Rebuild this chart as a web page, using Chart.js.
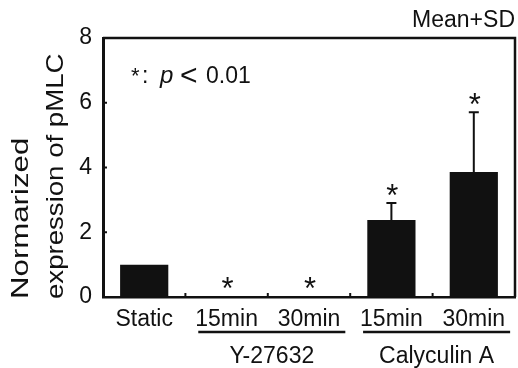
<!DOCTYPE html>
<html><head><meta charset="utf-8">
<script src="https://cdn.jsdelivr.net/npm/chart.js@4"></script>
<style>html,body{margin:0;padding:0;background:#fff}</style>
</head><body>
<canvas id="c" width="518" height="368"></canvas>
<script>
// ---- data ----
const categories = ['Static', '15min', '30min', '15min', '30min'];
const groups = ['', 'Y-27632', 'Y-27632', 'Calyculin A', 'Calyculin A'];
const means = [1.0, 0.02, 0.02, 2.38, 3.86];
const sds = [0, 0, 0, 0.52, 1.85];
const significant = [false, true, true, true, true];
const yTicks = [0, 2, 4, 6, 8];
const yTitle = ['Normarized', 'expression of pMLC'];
const cornerText = 'Mean+SD';
const noteParts = ['*', ':', 'p', '<', '0.01'];

const FONT = '"Liberation Sans", Arial, sans-serif';
const INK = '#111';

const extras = {
  id: 'extras',
  afterDatasetsDraw(chart) {
    const {ctx, chartArea: a, scales: {x, y}} = chart;
    ctx.save();
    ctx.strokeStyle = INK; ctx.fillStyle = INK;
    // frame top & right
    ctx.lineWidth = 2.5;
    ctx.beginPath();
    ctx.moveTo(a.left, a.top); ctx.lineTo(a.right, a.top); ctx.lineTo(a.right, a.bottom);
    ctx.stroke();
    // inward y ticks
    ctx.lineWidth = 2;
    yTicks.forEach(v => {
      const py = y.getPixelForValue(v);
      ctx.beginPath(); ctx.moveTo(a.left, py); ctx.lineTo(a.left + 4, py); ctx.stroke();
    });
    // inward x ticks at category boundaries
    for (let i = 0; i < categories.length - 1; i++) {
      const px = (x.getPixelForValue(i) + x.getPixelForValue(i + 1)) / 2;
      ctx.beginPath(); ctx.moveTo(px, a.bottom); ctx.lineTo(px, a.bottom - 4); ctx.stroke();
    }
    // error bars
    ctx.lineWidth = 2;
    means.forEach((m, i) => {
      if (!sds[i]) return;
      const px = x.getPixelForValue(i);
      const y0 = y.getPixelForValue(m), y1 = y.getPixelForValue(m + sds[i]);
      ctx.beginPath(); ctx.moveTo(px, y0); ctx.lineTo(px, y1);
      ctx.moveTo(px - 5, y1); ctx.lineTo(px + 5, y1); ctx.stroke();
    });
    // asterisks
    ctx.font = '31px ' + FONT; ctx.textAlign = 'center'; ctx.textBaseline = 'alphabetic';
    means.forEach((m, i) => {
      if (!significant[i]) return;
      const px = x.getPixelForValue(i);
      const top = y.getPixelForValue(m + sds[i]);
      ctx.fillText('*', px + 1, top - 15 + 18);
    });
    ctx.restore();
  },
  afterDraw(chart) {
    const {ctx, chartArea: a, scales: {x}} = chart;
    ctx.save();
    ctx.fillStyle = INK; ctx.strokeStyle = INK;
    // group underlines + labels
    ctx.font = '23px ' + FONT;
    const seen = {};
    groups.forEach((g, i) => { if (g) { (seen[g] = seen[g] || []).push(i); } });
    Object.keys(seen).forEach(g => {
      const idx = seen[g];
      const i0 = idx[0], i1 = idx[idx.length - 1];
      const l = x.getPixelForValue(i0) + 3 - ctx.measureText(categories[i0]).width / 2;
      const r = x.getPixelForValue(i1) + 3 + ctx.measureText(categories[i1]).width / 2 + 2;
      ctx.lineWidth = 2.5;
      ctx.beginPath(); ctx.moveTo(l, 332); ctx.lineTo(r, 332); ctx.stroke();
      ctx.textAlign = 'center'; ctx.textBaseline = 'alphabetic';
      ctx.fillText(g, (l + r) / 2, 363);
    });
    // corner text
    ctx.textAlign = 'right';
    ctx.fillText(cornerText, 515, 27);
    // note
    ctx.textAlign = 'left';
    ctx.font = '22px ' + FONT; ctx.fillText(noteParts[0], 131, 83);
    ctx.font = '23px ' + FONT; ctx.fillText(noteParts[1], 142, 83);
    ctx.font = 'italic 24px ' + FONT; ctx.fillText(noteParts[2], 160, 83);
    ctx.font = '30px ' + FONT; ctx.fillText(noteParts[3], 180, 85);
    ctx.font = '23px ' + FONT; ctx.fillText(noteParts[4], 206, 83);
    // y title (rotated, stretched)
    ctx.font = '24px ' + FONT;
    [[yTitle[0], 28, 1.3], [yTitle[1], 63, 1.15]].forEach(([t, bx, s]) => {
      ctx.save();
      ctx.translate(bx, 299); ctx.rotate(-Math.PI / 2); ctx.scale(s, 1);
      ctx.textAlign = 'left'; ctx.textBaseline = 'alphabetic';
      ctx.fillText(t, 0, 0);
      ctx.restore();
    });
    ctx.restore();
  }
};

new Chart(document.getElementById('c'), {
  type: 'bar',
  data: {
    labels: categories,
    datasets: [{ data: means, backgroundColor: INK, borderWidth: 0,
      barPercentage: 0.585, categoryPercentage: 1.0 }]
  },
  options: {
    responsive: false, animation: false, devicePixelRatio: 1,
    layout: { padding: { left: 0, right: 3, top: 38, bottom: 0 } },
    plugins: { legend: { display: false }, tooltip: { enabled: false }, title: { display: false } },
    scales: {
      x: {
        grid: { display: true, drawOnChartArea: false, drawTicks: false },
        border: { display: true, color: INK, width: 2.5 },
        ticks: { color: INK, font: { family: FONT, size: 23 }, padding: 9, maxRotation: 0, autoSkip: false },
        afterFit(s) { s.height = 71; }
      },
      y: {
        min: 0, max: 8,
        afterBuildTicks(s) { s.ticks = yTicks.map(v => ({ value: v })); },
        grid: { display: true, drawOnChartArea: false, drawTicks: false },
        border: { display: true, color: INK, width: 3 },
        ticks: { color: INK, font: { family: FONT, size: 23 }, padding: 11 },
        afterFit(s) { s.width = 103; }
      }
    }
  },
  plugins: [extras]
});
</script>
</body></html>
